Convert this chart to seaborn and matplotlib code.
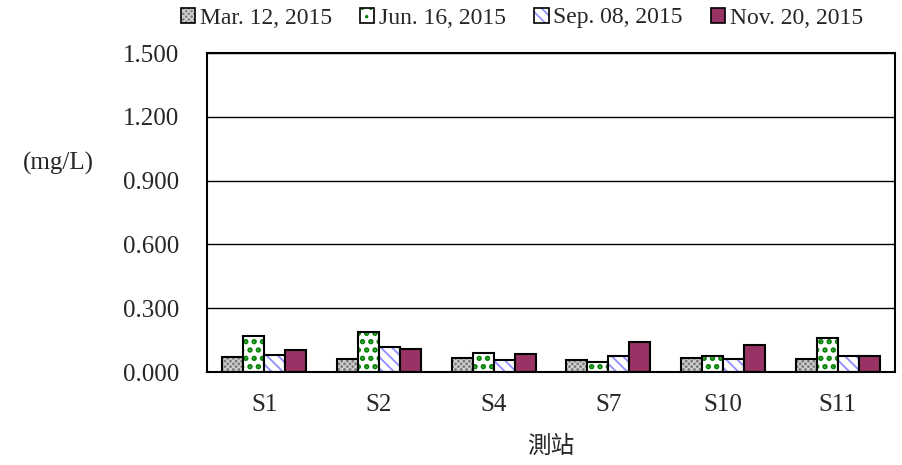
import numpy as np
import pandas as pd
import matplotlib
matplotlib.use("Agg")
import matplotlib.pyplot as plt
import seaborn as sns

stations = ["S1", "S2", "S4", "S7", "S10", "S11"]
dates = ["Mar. 12, 2015", "Jun. 16, 2015", "Sep. 08, 2015", "Nov. 20, 2015"]
mar = [0.072, 0.060, 0.064, 0.056, 0.064, 0.060]
jun = [0.171, 0.190, 0.091, 0.045, 0.077, 0.161]
sep = [0.080, 0.119, 0.056, 0.077, 0.060, 0.077]
nov = [0.103, 0.107, 0.083, 0.142, 0.127, 0.077]
yticks = [0.0, 0.3, 0.6, 0.9, 1.2, 1.5]

df = pd.DataFrame({
    "station": stations * 4,
    "date": sum([[d] * len(stations) for d in dates], []),
    "value": mar + jun + sep + nov,
})

sns.set_theme(style="white")
plt.rcParams["font.family"] = ["Liberation Serif", "Noto Sans CJK TC", "DejaVu Sans"]
plt.rcParams["hatch.linewidth"] = 1.2

fig = plt.figure(figsize=(9.03, 4.65), dpi=100)
ax = fig.add_axes([207 / 903, 1 - 372 / 465, (895 - 207) / 903, (372 - 53) / 465])

palette = ["#7a7a7a", "#ffffff", "#ffffff", "#993366"]
ax = sns.barplot(data=df, x="station", y="value", hue="date", order=stations,
                 hue_order=dates, palette=palette, width=0.73, ax=ax,
                 edgecolor="black", linewidth=1.5, saturation=1, legend=True)

hatches = ["xxxxxx", "..", "\\\\\\", None]
hcolors = ["#cfcfcf", "#008000", "#8f8fff", "black"]
hlw = [1.0, 2.6, 1.3, 1.0]


def style(p, h, hc, lw):
    if h:
        p.set_hatch(h)
        p._hatch_color = matplotlib.colors.to_rgba(hc)
        if hasattr(p, "set_hatch_linewidth"):
            p.set_hatch_linewidth(lw)


for cont, h, hc, lw in zip(ax.containers, hatches, hcolors, hlw):
    for bar in cont:
        style(bar, h, hc, lw)
handles, labels = ax.get_legend_handles_labels()
for hd, h, hc, lw in zip(handles, hatches, hcolors, hlw):
    style(hd, h, hc, lw)
    hd.set_linewidth(1.2)
ax.get_legend().remove()
fig.legend(handles, labels, loc="center", bbox_to_anchor=(522 / 903, 1 - 18 / 465),
           ncol=4, frameon=False, fontsize=17, handlelength=0.6, handleheight=0.6,
           handletextpad=0.2, columnspacing=1.2, borderpad=0)

ax.set_ylim(0, 1.5)
ax.set_xlim(-0.5, len(stations) - 0.5)
ax.set_yticks(yticks)
ax.set_yticklabels([f"{v:.3f}" for v in yticks], fontsize=18)
ax.yaxis.grid(True, color="black", linewidth=1.0)
ax.set_axisbelow(True)
ax.tick_params(axis="y", length=0, pad=20)
ax.tick_params(axis="x", length=0, pad=16, labelsize=18)
ax.set_xticks(np.arange(0.5, len(stations) - 0.5, 1.0), minor=True)
ax.tick_params(axis="x", which="minor", direction="in", length=6, width=1.2, color="black")
for s in ax.spines.values():
    s.set_color("black")
    s.set_linewidth(1.5)
ax.set_ylabel("")
ax.set_xlabel("測站", fontsize=17, labelpad=14)
fig.text(58 / 903, 1 - 163 / 465, "(mg/L)", ha="center", va="center", fontsize=18)

fig.savefig("out.png", dpi=100)
